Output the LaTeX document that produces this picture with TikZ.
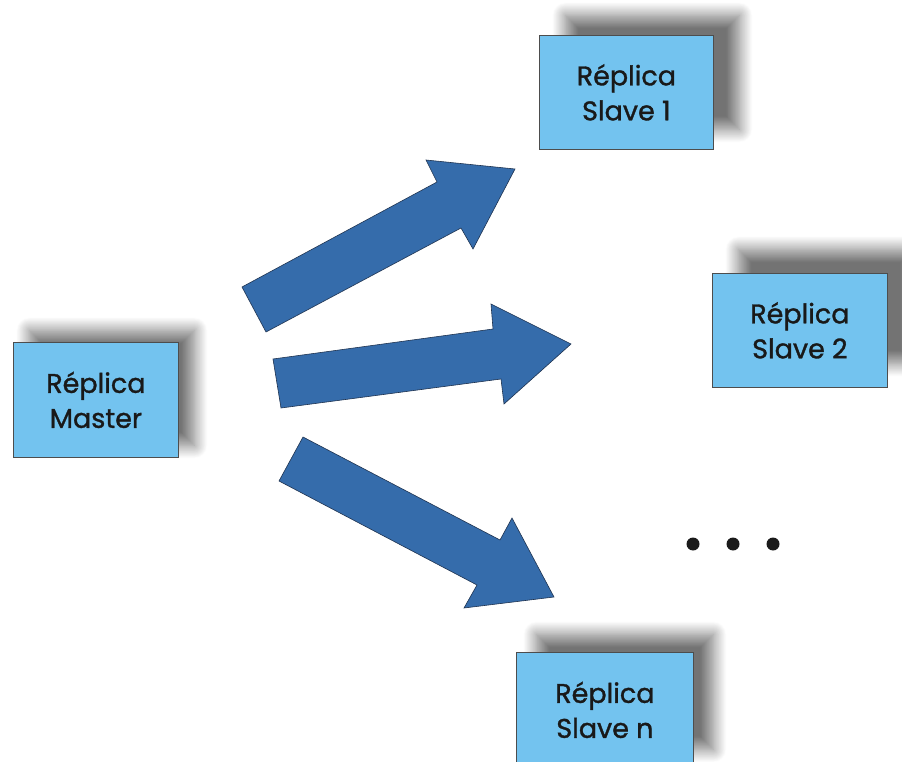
\documentclass[tikz,border=0pt]{standalone}
\usepackage{fontspec}
\newfontfamily\boxfont{Poppins}[FakeBold=1.2]
\usetikzlibrary{shadows.blur}
\definecolor{boxfill}{HTML}{73C3EF}
\definecolor{boxline}{HTML}{4D4D4D}
\definecolor{arrowfill}{HTML}{356CAB}
\definecolor{arrowline}{HTML}{1F3350}
\definecolor{dotcol}{HTML}{1A1A1A}
\tikzset{
  replica/.style={draw=boxline, line width=0.8pt, fill=boxfill, anchor=north west,
    inner sep=0pt, align=center, text=black!90,
    font=\boxfont\fontsize{27}{35}\selectfont},
  softshadow/.style 2 args={blur shadow={shadow xshift=#1, shadow yshift=#2,
    shadow blur radius=13pt, shadow opacity=55, shadow blur steps=16}},
  blockarrow/.style={fill=arrowfill, draw=arrowline, line width=0.6pt, line join=miter},
  ellipsisdot/.style={fill=dotcol, draw=none}
}
\begin{document}
\begin{tikzpicture}[x=1pt, y=-1pt]
  \useasboundingbox (0,0) rectangle (902,762);
  \clip (0,0) rectangle (902,762);

  % replica boxes with soft drop shadows
  \node[replica, softshadow={16pt}{12pt}, minimum width=165pt, minimum height=115pt]
    (master) at (13,342) {Réplica\\Master};
  \node[replica, softshadow={26pt}{20pt}, minimum width=174pt, minimum height=114pt]
    (slave1) at (539,35) {Réplica\\Slave 1};
  \node[replica, softshadow={26pt}{24pt}, minimum width=175pt, minimum height=114pt]
    (slave2) at (712,273) {Réplica\\Slave 2};
  \node[replica, softshadow={20pt}{18pt}, minimum width=177pt, minimum height=115pt]
    (slaven) at (516,652) {Réplica\\Slave n};

  % block arrow towards Slave 1
  \coordinate (a1t1) at (242,287);
  \coordinate (a1n1) at (437,182);
  \coordinate (a1b1) at (426,160);
  \coordinate (a1tip) at (515,169);
  \coordinate (a1b2) at (473,249);
  \coordinate (a1n2) at (461,228);
  \coordinate (a1t2) at (266,332);
  \draw[blockarrow] (a1t1) -- (a1n1) -- (a1b1) -- (a1tip) -- (a1b2) -- (a1n2) -- (a1t2) -- cycle;

  % block arrow towards Slave 2
  \coordinate (a2t1) at (273,359);
  \coordinate (a2n1) at (493,329);
  \coordinate (a2b1) at (491,304);
  \coordinate (a2tip) at (571,344);
  \coordinate (a2b2) at (504,404);
  \coordinate (a2n2) at (501,379);
  \coordinate (a2t2) at (281,408);
  \draw[blockarrow] (a2t1) -- (a2n1) -- (a2b1) -- (a2tip) -- (a2b2) -- (a2n2) -- (a2t2) -- cycle;

  % block arrow towards Slave n
  \coordinate (a3t1) at (303,437);
  \coordinate (a3n1) at (500,540);
  \coordinate (a3b1) at (512,518);
  \coordinate (a3tip) at (554,597);
  \coordinate (a3b2) at (464,608);
  \coordinate (a3n2) at (477,585);
  \coordinate (a3t2) at (279,481);
  \draw[blockarrow] (a3t1) -- (a3n1) -- (a3b1) -- (a3tip) -- (a3b2) -- (a3n2) -- (a3t2) -- cycle;

  % ellipsis
  \fill[ellipsisdot] (693,544) circle (6.5pt);
  \fill[ellipsisdot] (733,544) circle (6.5pt);
  \fill[ellipsisdot] (773,544) circle (6.5pt);
\end{tikzpicture}
\end{document}
